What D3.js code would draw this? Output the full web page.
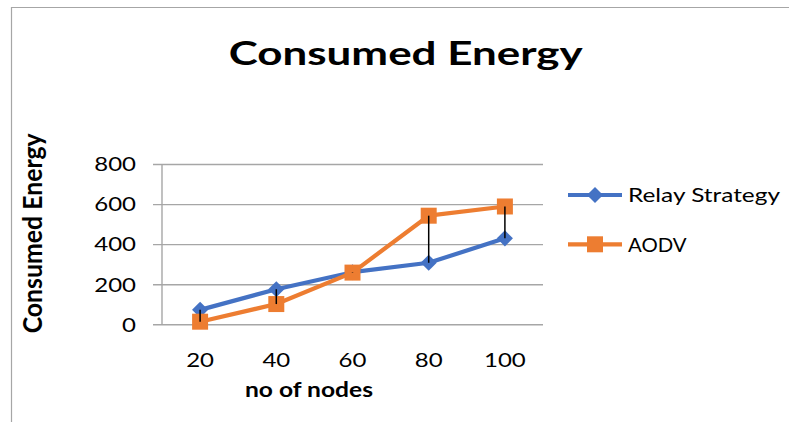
<!DOCTYPE html>
<html>
<head>
<meta charset="utf-8">
<script src="https://cdn.jsdelivr.net/npm/d3@7"></script>
<style>
  html, body { margin: 0; padding: 0; background: #fff; }
  svg { display: block; }
  text { font-family: Lato, "Open Sans", "Liberation Sans", sans-serif; fill: #000; }
</style>
</head>
<body>
<svg id="chart" width="789" height="422"></svg>
<script>
// ---- data ----
const categories = ["20", "40", "60", "80", "100"];
const relayValues = [72, 175, 260, 307, 429];
const aodvValues = [13, 101, 258, 542, 588];
const yTicks = [0, 200, 400, 600, 800];
const seriesNames = ["Relay Strategy", "AODV"];
const titleText = "Consumed Energy";
const xTitle = "no of nodes";
const yTitle = "Consumed Energy";

// ---- layout ----
const W = 789, H = 422;
const plot = { left: 162, right: 543, top: 164, bottom: 324.3 };
const colors = { relay: "#4472C4", aodv: "#ED7D31", grid: "#A6A6A6", frame: "#A6A6A6" };

const svg = d3.select("#chart");

// frame (partial border visible in reference)
svg.append("line").attr("x1", 11).attr("x2", W).attr("y1", 7.5).attr("y2", 7.5)
  .attr("stroke", colors.frame).attr("stroke-width", 1.2);
svg.append("line").attr("x1", 11.5).attr("x2", 11.5).attr("y1", 7).attr("y2", H)
  .attr("stroke", colors.frame).attr("stroke-width", 1.2);

const x = d3.scaleBand().domain(categories).range([plot.left, plot.right]).padding(0);
const cx = c => x(c) + x.bandwidth() / 2;
const y = d3.scaleLinear().domain([0, 800]).range([plot.bottom, plot.top]);

// helper: stretch text horizontally to a target width
function fitWidth(sel, w) {
  sel.attr("textLength", w).attr("lengthAdjust", "spacingAndGlyphs");
}

// ---- y axis + gridlines ----
const yAxisG = svg.append("g").attr("transform", `translate(${plot.left},0)`)
  .call(d3.axisLeft(y).tickValues(yTicks).tickSize(-(plot.right - plot.left)).tickPadding(0));
yAxisG.select(".domain").remove();
yAxisG.selectAll(".tick line").attr("x1", -9).attr("stroke", colors.grid).attr("stroke-width", 1.4);
yAxisG.selectAll(".tick text")
  .attr("x", -26).attr("dy", "0.34em").attr("text-anchor", "end")
  .style("font-size", "20px").style("font-family", "Lato, 'Open Sans', sans-serif").attr("fill", "#000")
  .each(function () {
    const t = d3.select(this);
    const n = this.getComputedTextLength();
    fitWidth(t, n * 1.2);
  });
// vertical axis line
svg.append("line").attr("x1", plot.left).attr("x2", plot.left)
  .attr("y1", plot.top).attr("y2", plot.bottom)
  .attr("stroke", colors.grid).attr("stroke-width", 1.4);

// ---- x axis labels ----
const xAxisG = svg.append("g").attr("transform", `translate(0,${plot.bottom})`)
  .call(d3.axisBottom(x).tickSize(0).tickPadding(0));
xAxisG.select(".domain").remove();
xAxisG.selectAll(".tick text")
  .attr("y", 43).attr("dy", 0)
  .style("font-size", "20px").style("font-family", "Lato, 'Open Sans', sans-serif").attr("fill", "#000")
  .each(function () {
    const t = d3.select(this);
    const n = this.getComputedTextLength();
    fitWidth(t, n * 1.2);
  });

// ---- series ----
const diamond = d3.symbol().type(d3.symbolSquare).size(130);
const square = d3.symbol().type(d3.symbolSquare).size(256);

const line = d3.line().x((d, i) => cx(categories[i])).y(d => y(d));

// Relay Strategy
svg.append("path").datum(relayValues).attr("d", line)
  .attr("fill", "none").attr("stroke", colors.relay).attr("stroke-width", 4.2).attr("stroke-linejoin", "round");
svg.append("g").selectAll("path").data(relayValues).join("path")
  .attr("d", diamond)
  .attr("transform", (d, i) => `translate(${cx(categories[i])},${y(d)}) rotate(45)`)
  .attr("fill", colors.relay);

// AODV
svg.append("path").datum(aodvValues).attr("d", line)
  .attr("fill", "none").attr("stroke", colors.aodv).attr("stroke-width", 4.2).attr("stroke-linejoin", "round");
svg.append("g").selectAll("path").data(aodvValues).join("path")
  .attr("d", square)
  .attr("transform", (d, i) => `translate(${cx(categories[i])},${y(d)})`)
  .attr("fill", colors.aodv);

// high-low (drop) lines
svg.append("g").selectAll("line").data(categories).join("line")
  .attr("x1", c => cx(c)).attr("x2", c => cx(c))
  .attr("y1", (c, i) => y(relayValues[i])).attr("y2", (c, i) => y(aodvValues[i]))
  .attr("stroke", "#000").attr("stroke-width", 1.5);

// ---- titles ----
svg.append("text").text(titleText)
  .attr("x", 405.7).attr("y", 65).attr("text-anchor", "middle")
  .style("font-size", "32px").style("font-weight", "bold")
  .call(fitWidth, 354);

svg.append("text").text(xTitle)
  .attr("x", 309).attr("y", 396.7).attr("text-anchor", "middle")
  .style("font-size", "20px").style("font-weight", "bold")
  .call(fitWidth, 128);

svg.append("text").text(yTitle)
  .attr("transform", "translate(41.7,233.3) scale(1.3,1) rotate(-90)")
  .attr("x", 0).attr("y", 0).attr("text-anchor", "middle")
  .style("font-size", "21px").style("font-weight", "bold")
  .call(fitWidth, 200);

// ---- legend ----
const legendY = [195, 244.3];
const legendText = [{ w: 152, base: 202.3 }, { w: 58.5, base: 251.7 }];
const legend = svg.append("g");
seriesNames.forEach((name, i) => {
  const col = i === 0 ? colors.relay : colors.aodv;
  legend.append("line").attr("x1", 568).attr("x2", 622)
    .attr("y1", legendY[i]).attr("y2", legendY[i])
    .attr("stroke", col).attr("stroke-width", 4.2);
  legend.append("path")
    .attr("d", i === 0 ? diamond : square)
    .attr("transform", `translate(595,${legendY[i]})` + (i === 0 ? " rotate(45)" : ""))
    .attr("fill", col);
  legend.append("text").text(name)
    .attr("x", 628).attr("y", legendText[i].base)
    .style("font-size", "20px")
    .call(fitWidth, legendText[i].w);
});
</script>
</body>
</html>
